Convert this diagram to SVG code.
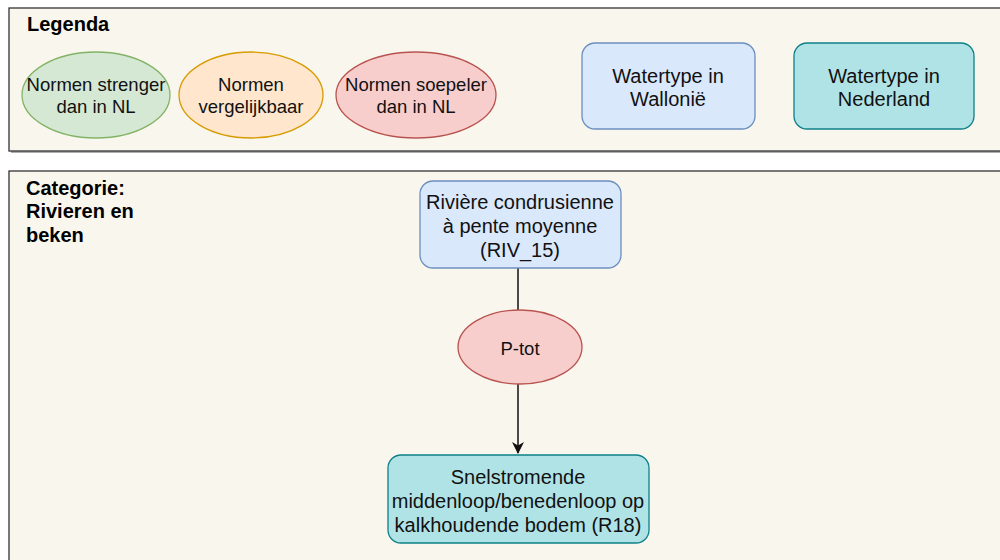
<svg xmlns="http://www.w3.org/2000/svg" width="1000" height="560" viewBox="0 0 1000 560">
<style>
text{font-family:"Liberation Sans",Arial,sans-serif;fill:#111;text-anchor:middle}
.t18{font-size:18.5px}
.t20{font-size:20px}
.title{font-size:20px;font-weight:bold;text-anchor:start;fill:#000}
.panel{fill:#f9f6ee;stroke:#333;stroke-width:1.3}
.shadow{fill:#8a8a8a;opacity:0.7}
.green{fill:#d5e8d4;stroke:#82b366;stroke-width:1.3}
.orange{fill:#ffe6cc;stroke:#d79b00;stroke-width:1.3}
.red{fill:#f8cecc;stroke:#b85450;stroke-width:1.3}
.blue{fill:#dae8fc;stroke:#6c8ebf;stroke-width:1.3}
.teal{fill:#b0e3e6;stroke:#0e8088;stroke-width:1.3}
.edge{stroke:#111;stroke-width:1.5;fill:none}
</style>
<defs>
<marker id="arr" viewBox="0 0 12 12" refX="11" refY="6" markerWidth="12" markerHeight="12" markerUnits="userSpaceOnUse" orient="auto">
<path d="M0,0 L12,6 L0,12 L3.5,6 Z" fill="#111"/>
</marker>
</defs>
<rect width="1000" height="560" fill="#ffffff"/>
<g id="legend-panel">
<rect class="shadow" x="11" y="10" width="1000" height="143"/>
<rect class="panel" x="9" y="8" width="1000" height="143"/>
<text class="title" x="27" y="31">Legenda</text>
</g>
<g id="category-panel">
<rect class="shadow" x="11" y="173" width="1000" height="400"/>
<rect class="panel" x="9" y="171" width="1000" height="400"/>
<text class="title" x="26" y="195">Categorie:</text>
<text class="title" x="26" y="218">Rivieren en</text>
<text class="title" x="26" y="242">beken</text>
</g>
<g id="legend-strenger">
<ellipse class="green" cx="96" cy="95" rx="74" ry="43"/>
<text class="t18" x="96" y="91">Normen strenger</text>
<text class="t18" x="96" y="113">dan in NL</text>
</g>
<g id="legend-vergelijkbaar">
<ellipse class="orange" cx="251" cy="95" rx="72" ry="43"/>
<text class="t18" x="251" y="91">Normen</text>
<text class="t18" x="251" y="113">vergelijkbaar</text>
</g>
<g id="legend-soepeler">
<ellipse class="red" cx="416" cy="95" rx="80" ry="43"/>
<text class="t18" x="416" y="91">Normen soepeler</text>
<text class="t18" x="416" y="113">dan in NL</text>
</g>
<g id="legend-wallonie">
<rect class="blue" x="582" y="43" width="173" height="86" rx="13"/>
<text class="t20" x="668" y="83">Watertype in</text>
<text class="t20" x="668" y="106">Wallonië</text>
</g>
<g id="legend-nederland">
<rect class="teal" x="794" y="43" width="180" height="86" rx="13"/>
<text class="t20" x="884" y="83">Watertype in</text>
<text class="t20" x="884" y="106">Nederland</text>
</g>
<g id="connectors">
<line class="edge" x1="518" y1="268" x2="518" y2="310"/>
<line class="edge" x1="518" y1="384" x2="518" y2="453" marker-end="url(#arr)"/>
</g>
<g id="riv15">
<rect class="blue" x="420" y="181" width="201" height="87" rx="13"/>
<text class="t20" x="520" y="209">Rivière condrusienne</text>
<text class="t20" x="520" y="233">à pente moyenne</text>
<text class="t20" x="520" y="257">(RIV_15)</text>
</g>
<g id="ptot">
<ellipse class="red" cx="520" cy="347" rx="62" ry="37"/>
<text class="t18" x="520" y="355">P-tot</text>
</g>
<g id="r18">
<rect class="teal" x="388" y="455" width="261" height="88" rx="13"/>
<text class="t20" x="518" y="484">Snelstromende</text>
<text class="t20" x="518" y="508">middenloop/benedenloop op</text>
<text class="t20" x="518" y="532">kalkhoudende bodem (R18)</text>
</g>
</svg>
